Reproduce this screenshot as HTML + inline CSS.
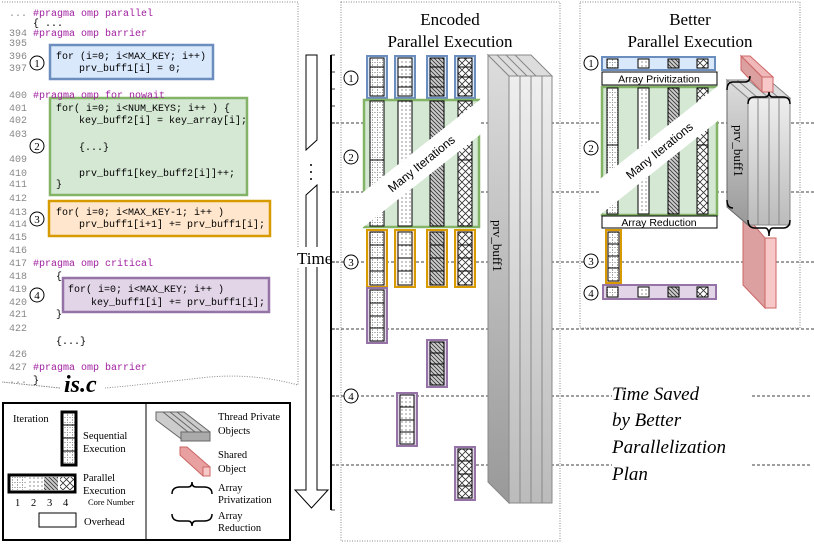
<!DOCTYPE html>
<html><head><meta charset="utf-8"><style>
html,body{margin:0;padding:0;background:#fff;}
svg{display:block;}
.m{font-family:"Liberation Mono","DejaVu Sans Mono",monospace;font-size:10px;}
.ln{fill:#888;}
.pg{fill:#a020a0;}
.s{font-family:"Liberation Serif",serif;}
.a{font-family:"Liberation Sans",sans-serif;}
</style></head><body>
<svg width="814" height="544" viewBox="0 0 814 544" xmlns="http://www.w3.org/2000/svg">
<defs>
<pattern id="p1" width="5" height="5" patternUnits="userSpaceOnUse"><rect width="5" height="5" fill="#fff"/><path d="M2.5 0V5M0 2.5H5" stroke="#777" stroke-width="0.6" stroke-dasharray="1 1"/></pattern>
<pattern id="p2" width="4" height="4" patternUnits="userSpaceOnUse"><rect width="4" height="4" fill="#fff"/><circle cx="2" cy="2" r="0.6" fill="#444"/></pattern>
<pattern id="p3" width="4" height="4" patternUnits="userSpaceOnUse"><rect width="4" height="4" fill="#ccc"/><path d="M0 0L4 4M-1 3L1 5M3 -1L5 1" stroke="#333" stroke-width="0.8"/></pattern>
<pattern id="p4" width="7" height="7" patternUnits="userSpaceOnUse"><rect width="7" height="7" fill="#fff"/><path d="M0 0L7 7M7 0L0 7" stroke="#333" stroke-width="0.8"/></pattern>
<linearGradient id="gg" x1="0" y1="0" x2="0" y2="1"><stop offset="0" stop-color="#eee"/><stop offset="1" stop-color="#bbb"/></linearGradient>
<linearGradient id="gs" x1="0" y1="0" x2="0" y2="1"><stop offset="0" stop-color="#ddd"/><stop offset="1" stop-color="#999"/></linearGradient>
</defs>

<!-- Code panel -->
<path d="M2 2H298V385 Q250 372 200 378 Q130 386 105 388 M60 388 Q30 385 2 382Z" fill="none" stroke="#888" stroke-dasharray="1 1.5"/>
<rect x="50" y="45" width="163" height="34" fill="#dae8fc" stroke="#6c8ebf" stroke-width="2.5"/>
<rect x="50" y="98" width="197" height="97" fill="#d5e8d4" stroke="#82b366" stroke-width="2.5"/>
<rect x="49" y="201" width="221" height="35" fill="#ffe6cc" stroke="#d79b00" stroke-width="2.5"/>
<rect x="63" y="278" width="206" height="34" fill="#e1d5e7" stroke="#9673a6" stroke-width="2.5"/>
<g class="m">
<text x="9" y="16"><tspan class="ln">...</tspan> <tspan class="pg">#pragma omp parallel</tspan></text>
<text x="33" y="26">{ ...</text>
<text x="9" y="36" class="ln">394 <tspan class="pg">#pragma omp barrier</tspan></text>
<text x="9" y="46" class="ln">395</text>
<text x="9" y="59" class="ln">396</text><text x="56" y="59">for (i=0; i&lt;MAX_KEY; i++)</text>
<text x="9" y="71" class="ln">397</text><text x="79" y="71">prv_buff1[i] = 0;</text>
<text x="9" y="98" class="ln">400 <tspan class="pg">#pragma omp for nowait</tspan></text>
<text x="9" y="111" class="ln">401</text><text x="56" y="111">for( i=0; i&lt;NUM_KEYS; i++ ) {</text>
<text x="9" y="123" class="ln">402</text><text x="79" y="123">key_buff2[i] = key_array[i];</text>
<text x="9" y="137" class="ln">403</text>
<text x="79" y="150">{...}</text>
<text x="9" y="162" class="ln">409</text>
<text x="9" y="176" class="ln">410</text><text x="79" y="176">prv_buff1[key_buff2[i]]++;</text>
<text x="9" y="187" class="ln">411</text><text x="56" y="187">}</text>
<text x="9" y="201" class="ln">412</text>
<text x="9" y="215" class="ln">413</text><text x="56" y="215">for( i=0; i&lt;MAX_KEY-1; i++ )</text>
<text x="9" y="227" class="ln">414</text><text x="79" y="227">prv_buff1[i+1] += prv_buff1[i];</text>
<text x="9" y="240" class="ln">415</text>
<text x="9" y="253" class="ln">416</text>
<text x="9" y="266" class="ln">417 <tspan class="pg">#pragma omp critical</tspan></text>
<text x="9" y="279" class="ln">418</text><text x="56" y="279">{</text>
<text x="9" y="292" class="ln">419</text><text x="68" y="292">for( i=0; i&lt;MAX_KEY; i++ )</text>
<text x="9" y="305" class="ln">420</text><text x="91" y="305">key_buff1[i] += prv_buff1[i];</text>
<text x="9" y="317" class="ln">421</text><text x="56" y="317">}</text>
<text x="9" y="331" class="ln">422</text>
<text x="56" y="344">{...}</text>
<text x="9" y="357" class="ln">426</text>
<text x="9" y="370" class="ln">427 <tspan class="pg">#pragma omp barrier</tspan></text>
<text x="9" y="383"><tspan class="ln">...</tspan> }</text>
</g>
<g fill="#fff" stroke="#000" stroke-width="1">
<circle cx="37" cy="63" r="7"/><circle cx="37" cy="146" r="7"/><circle cx="37" cy="219" r="7"/><circle cx="37" cy="295" r="7"/>
</g>
<g class="s" font-size="11" text-anchor="middle"><text x="37" y="67">1</text><text x="37" y="150">2</text><text x="37" y="223">3</text><text x="37" y="299">4</text></g>
<text x="64" y="392" class="s" font-size="24" font-weight="bold" font-style="italic">is.c</text>

<!-- Legend -->
<rect x="3" y="403" width="287" height="137" fill="#fff" stroke="#000" stroke-width="2"/>
<line x1="146" y1="403" x2="146" y2="540" stroke="#000"/>
<g class="s" font-size="10.5">
<text x="13" y="422">Iteration</text>
<text x="83" y="439">Sequential</text><text x="83" y="452">Execution</text>
<text x="83" y="481">Parallel</text><text x="83" y="494">Execution</text>
<text x="88" y="505" font-size="8.5">Core Number</text>
<text x="15" y="506">1</text><text x="31" y="506">2</text><text x="47" y="506">3</text><text x="63" y="506">4</text>
<text x="84" y="525">Overhead</text>
<text x="218" y="420">Thread Private</text><text x="218" y="434">Objects</text>
<text x="218" y="458">Shared</text><text x="218" y="472">Object</text>
<text x="218" y="491">Array</text><text x="218" y="503">Privatization</text>
<text x="218" y="519">Array</text><text x="218" y="531">Reduction</text>
</g>
<rect x="62" y="412" width="14" height="53" fill="url(#p1)" stroke="#000" stroke-width="3"/>
<path d="M62 425H76M62 438H76M62 451H76" stroke="#000"/>
<rect x="9" y="475" width="66" height="17" fill="#fff" stroke="#000" stroke-width="3"/>
<rect x="11" y="477" width="15" height="13" fill="url(#p1)"/><rect x="28" y="477" width="15" height="13" fill="url(#p2)"/><rect x="44" y="477" width="14" height="13" fill="url(#p3)"/><rect x="60" y="477" width="14" height="13" fill="url(#p4)"/>
<rect x="39" y="513" width="37" height="14" fill="#fff" stroke="#000"/>
<g stroke="#666" fill="#ccc">
<path d="M156 412H184L210 432V441H184L156 420Z" fill="#ccc"/>
<path d="M163 412L188 432M170 412L195 432M177 412L202 432" fill="none"/>
<rect x="181" y="432" width="29" height="9" fill="#aaa"/>
</g>
<path d="M180 447H187L210 467V476H203L180 455Z" fill="#e8a0a0" stroke="#c66"/><rect x="203" y="467" width="7" height="9" fill="#f8c8c8" stroke="#c66"/>
<path d="M172 494Q172 487 180 487H188Q192 487 192 482Q192 487 196 487H204Q212 487 212 494" fill="none" stroke="#000" stroke-width="1.5"/>
<path d="M172 514Q172 521 180 521H188Q192 521 192 526Q192 521 196 521H204Q212 521 212 514" fill="none" stroke="#000" stroke-width="1.5"/>

<!-- Time arrow -->
<path d="M306 55H317V140L306 150Z" fill="#fff" stroke="#000"/>
<path d="M306 195L317 185V490H328L311.5 508L295 490H306Z" fill="#fff" stroke="#000"/>
<g fill="#000"><circle cx="311" cy="165" r="1"/><circle cx="311" cy="172" r="1"/><circle cx="311" cy="179" r="1"/></g>
<rect x="297" y="247" width="34" height="20" fill="#fff"/>
<text x="297" y="264" class="s" font-size="17">Time</text>
<line x1="331" y1="55" x2="331" y2="510" stroke="#000" stroke-width="2"/>
<g stroke="#000" stroke-width="0.8"><path d="M331 55H335M331 72H335M331 89H335M331 106H335M331 123H335M331 192H335M331 262H335M331 329H335M331 396H335M331 465H335M331 510H335"/></g>

<!-- dashed lines -->
<g stroke="#000" stroke-dasharray="3 2" stroke-width="0.8">
<path d="M331 123H814M331 192H814M331 262H814M331 329H814M331 396H612M752 396H810M331 465H612M752 465H810"/>
</g>

<!-- Encoded panel -->
<rect x="341" y="2" width="219" height="539" fill="none" stroke="#888" stroke-dasharray="1 1.5"/>
<text x="450" y="25" class="s" font-size="17" text-anchor="middle">Encoded</text>
<text x="450" y="47" class="s" font-size="17" text-anchor="middle">Parallel Execution</text>
<g fill="#dae8fc" stroke="#6c8ebf" stroke-width="2"><rect x="367" y="56" width="20" height="42"/><rect x="395" y="56" width="20" height="42"/><rect x="427" y="56" width="20" height="42"/><rect x="455" y="56" width="20" height="42"/></g>
<g stroke="#000"><rect x="370" y="58" width="14" height="38" fill="url(#p1)"/><rect x="398" y="58" width="14" height="38" fill="url(#p2)"/><rect x="430" y="58" width="14" height="38" fill="url(#p3)"/><rect x="458" y="58" width="14" height="38" fill="url(#p4)"/>
<path d="M370 67H384M370 77H384M370 87H384M398 67H412M398 77H412M398 87H412M430 67H444M430 77H444M430 87H444M458 67H472M458 77H472M458 87H472"/></g>
<rect x="364" y="100" width="115" height="127" fill="#d5e8d4" stroke="#82b366" stroke-width="2.5"/>
<g stroke="#000"><rect x="370" y="101" width="14" height="125" fill="url(#p1)"/><rect x="398" y="101" width="14" height="125" fill="url(#p2)"/><rect x="430" y="101" width="14" height="125" fill="url(#p3)"/><rect x="458" y="101" width="14" height="125" fill="url(#p4)"/><path d="M370 160H384M458 160H472"/></g>
<path d="M362 193L481 99V134L362 228Z" fill="#fff"/>
<text transform="translate(424 167) rotate(-39)" class="a" font-size="12" text-anchor="middle">Many Iterations</text>
<g fill="#ffe6cc" stroke="#d79b00" stroke-width="2"><rect x="367" y="230" width="20" height="57"/><rect x="395" y="230" width="20" height="57"/><rect x="427" y="230" width="20" height="57"/><rect x="455" y="230" width="20" height="57"/></g>
<g stroke="#000"><rect x="370" y="232" width="14" height="53" fill="url(#p1)"/><rect x="398" y="232" width="14" height="53" fill="url(#p2)"/><rect x="430" y="232" width="14" height="53" fill="url(#p3)"/><rect x="458" y="232" width="14" height="53" fill="url(#p4)"/>
<path d="M370 245H384M370 258H384M370 271H384M398 245H412M398 258H412M398 271H412M430 245H444M430 258H444M430 271H444M458 245H472M458 258H472M458 271H472"/></g>
<g fill="#e1d5e7" stroke="#9673a6" stroke-width="2"><rect x="367" y="288" width="20" height="55"/><rect x="427" y="340" width="20" height="47"/><rect x="397" y="393" width="20" height="53"/><rect x="455" y="447" width="20" height="53"/></g>
<g stroke="#000"><rect x="370" y="290" width="14" height="51" fill="url(#p1)"/><rect x="430" y="342" width="14" height="43" fill="url(#p3)"/><rect x="400" y="395" width="14" height="49" fill="url(#p2)"/><rect x="458" y="449" width="14" height="49" fill="url(#p4)"/>
<path d="M370 303H384M370 316H384M370 328H384M430 353H444M430 364H444M430 375H444M400 407H414M400 420H414M400 432H414M458 461H472M458 474H472M458 486H472"/></g>
<path d="M488 55L509 76V503L488 482Z" fill="url(#gs)" stroke="#888"/>
<path d="M488 55H531L552 76H509Z" fill="#ddd" stroke="#888"/>
<path d="M497 55L518 76M506 55L527 76M515 55L536 76" stroke="#888" fill="none"/>
<rect x="509" y="76" width="43" height="427" fill="url(#gg)" stroke="#888"/>
<path d="M520 76V503M531 76V503M542 76V503" stroke="#888"/>
<text transform="translate(493 220) rotate(90)" class="s" font-size="13">prv_buff1</text>
<g fill="#fff" stroke="#000"><circle cx="351" cy="78" r="7"/><circle cx="351" cy="157" r="7"/><circle cx="351" cy="262" r="7"/><circle cx="351" cy="396" r="7"/></g>
<g class="s" font-size="11" text-anchor="middle"><text x="351" y="82">1</text><text x="351" y="161">2</text><text x="351" y="266">3</text><text x="351" y="400">4</text></g>

<!-- Better panel -->
<rect x="580" y="2" width="220" height="326" fill="none" stroke="#888" stroke-dasharray="1 1.5"/>
<text x="690" y="25" class="s" font-size="17" text-anchor="middle">Better</text>
<text x="690" y="47" class="s" font-size="17" text-anchor="middle">Parallel Execution</text>
<rect x="602" y="57" width="113" height="13" fill="#dae8fc" stroke="#6c8ebf" stroke-width="2"/>
<g stroke="#000"><rect x="607" y="59" width="11" height="9" fill="url(#p1)"/><rect x="638" y="59" width="11" height="9" fill="url(#p2)"/><rect x="668" y="59" width="11" height="9" fill="url(#p3)"/><rect x="697" y="59" width="11" height="9" fill="url(#p4)"/></g>
<rect x="602" y="72" width="115" height="13" fill="#fff" stroke="#000"/>
<text x="659" y="82.5" class="a" font-size="10.5" text-anchor="middle">Array Privitization</text>
<rect x="602" y="87" width="115" height="128" fill="#d5e8d4" stroke="#82b366" stroke-width="2.5"/>
<g stroke="#000"><rect x="607" y="88" width="11" height="126" fill="url(#p1)"/><rect x="638" y="88" width="11" height="126" fill="url(#p2)"/><rect x="668" y="88" width="11" height="126" fill="url(#p3)"/><rect x="697" y="88" width="11" height="126" fill="url(#p4)"/><path d="M607 145H618M697 145H708"/></g>
<path d="M600 179L719 85V120L600 215Z" fill="#fff"/>
<text transform="translate(662 154) rotate(-39)" class="a" font-size="12" text-anchor="middle">Many Iterations</text>
<rect x="602" y="216" width="115" height="12" fill="#fff" stroke="#000"/>
<text x="659" y="226" class="a" font-size="10.5" text-anchor="middle">Array Reduction</text>
<rect x="606" y="230" width="15" height="53" fill="#ffe6cc" stroke="#d79b00" stroke-width="2"/>
<g stroke="#000"><rect x="608" y="232" width="11" height="49" fill="url(#p1)"/><path d="M608 244H619M608 256H619M608 268H619"/></g>
<rect x="603" y="285" width="113" height="14" fill="#e1d5e7" stroke="#9673a6" stroke-width="2"/>
<g stroke="#000"><rect x="607" y="287" width="11" height="10" fill="url(#p1)"/><rect x="638" y="287" width="11" height="10" fill="url(#p2)"/><rect x="668" y="287" width="11" height="10" fill="url(#p3)"/><rect x="697" y="287" width="11" height="10" fill="url(#p4)"/></g>
<g fill="#fff" stroke="#000"><circle cx="591" cy="63" r="7"/><circle cx="591" cy="148" r="7"/><circle cx="591" cy="261" r="7"/><circle cx="591" cy="293" r="7"/></g>
<g class="s" font-size="11" text-anchor="middle"><text x="591" y="67">1</text><text x="591" y="152">2</text><text x="591" y="265">3</text><text x="591" y="297">4</text></g>
<path d="M743 212L765 238V308L743 285Z" fill="#dca0a0" stroke="#c66"/>
<rect x="765" y="238" width="11" height="70" fill="#f8c8c8" stroke="#c66"/>
<path d="M727 80L748 98V225L727 207Z" fill="url(#gs)" stroke="#666"/>
<path d="M727 80H769L790 98H748Z" fill="#ddd" stroke="#888"/>
<path d="M737 80L758 98M748 80L769 98M758 80L779 98" stroke="#888"/>
<rect x="748" y="98" width="42" height="127" fill="url(#gg)" stroke="#888"/>
<path d="M758 98V225M769 98V225M779 98V225" stroke="#888"/>
<text transform="translate(734 125) rotate(90)" class="s" font-size="13">prv_buff1</text>
<path d="M741 56H750L773 77H762Z" fill="#f0b8b8" stroke="#c66"/>
<path d="M741 56L762 77V92L741 70Z" fill="#dca0a0" stroke="#c66"/>
<rect x="762" y="77" width="11" height="15" fill="#f8c8c8" stroke="#c66"/>
<g fill="none" stroke="#000" stroke-width="1.5">
<path d="M727 90Q727 82 733 82H745Q750 82 750 76"/>
<path d="M748 104Q748 97 755 97H765Q769 97 769 92Q769 97 773 97H783Q790 97 790 104"/>
<path d="M727 200Q727 208 733 208"/>
<path d="M748 220Q748 228 755 228H765Q769 228 769 236Q769 228 773 228H783Q790 228 790 220"/>
</g>

<g class="s" font-size="19" font-style="italic">
<text x="612" y="400">Time Saved</text>
<text x="612" y="426">by Better</text>
<text x="612" y="453">Parallelization</text>
<text x="612" y="480">Plan</text>
</g>
</svg>
</body></html>
